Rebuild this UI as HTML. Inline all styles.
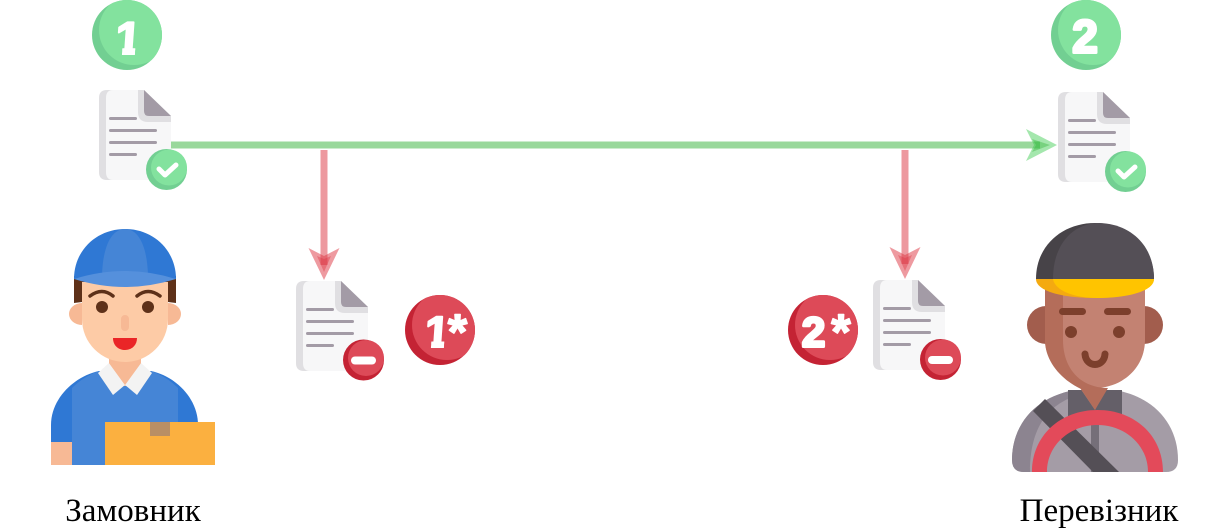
<!DOCTYPE html>
<html lang="uk">
<head>
<meta charset="utf-8">
<title>Замовник — Перевізник</title>
<style>
html,body{margin:0;padding:0;background:#fff;width:1221px;height:531px;overflow:hidden}
svg{display:block}
.num{font-family:"Liberation Sans",sans-serif;font-weight:700;fill:#fff;stroke:#fff;stroke-width:2;stroke-linejoin:round;text-anchor:middle}
.lbl{font-family:"Liberation Serif","DejaVu Serif",serif;font-size:33px;fill:#000;text-anchor:middle}
</style>
</head>
<body>
<svg width="1221" height="531" viewBox="0 0 1221 531" xmlns="http://www.w3.org/2000/svg">
<defs>
  <symbol id="doc" width="72" height="90" viewBox="0 0 72 90" overflow="visible">
    <path d="M8,0H45L72,26V82Q72,90 64,90H8Q0,90 0,82V8Q0,0 8,0Z" fill="#f7f7f8"/>
    <path d="M8,0H14Q7,0 7,8V82Q7,90 14,90H8Q0,90 0,82V8Q0,0 8,0Z" fill="#e0dfe2"/>
    <path d="M39,0H45L72,26V32H49Q39,32 39,22Z" fill="#e0dfe2"/>
    <path d="M45,0L72,26H50Q45,26 45,21Z" fill="#a39ba6"/>
    <rect x="10" y="27" width="28" height="3" rx="1.5" fill="#a39ba6"/>
    <rect x="10" y="39" width="48" height="3" rx="1.5" fill="#a39ba6"/>
    <rect x="10" y="51" width="48" height="3" rx="1.5" fill="#a39ba6"/>
    <rect x="10" y="63" width="28" height="3" rx="1.5" fill="#a39ba6"/>
  </symbol>
  <clipPath id="c-big"><circle cx="0" cy="0" r="35"/></clipPath>
  <clipPath id="one-clip"><path d="M-14,-40H8V40H-5V-10H-14Z"/></clipPath>
</defs>

<!-- connectors -->
<g>
  <line x1="171" y1="145" x2="1040" y2="145" stroke="#35b339" stroke-width="7" opacity=".5"/>
  <path d="M1026,129L1057,145L1026,161L1034,145Z" fill="#35c94a" opacity=".45"/>
  <path d="M1032,139L1050,145L1032,152L1036,145Z" fill="#35b339" opacity=".4"/>
</g>
<g>
  <line x1="324" y1="150" x2="324" y2="265" stroke="#dd3541" stroke-width="7" opacity=".5"/>
  <path d="M308.500,248L324,280L339.500,248L324,256Z" fill="#dd3541" opacity=".5"/>
  <path d="M317,256L324,272L331,256L324,259Z" fill="#dd3541" opacity=".4"/>
</g>
<g>
  <line x1="905" y1="150" x2="905" y2="264" stroke="#dd3541" stroke-width="7" opacity=".5"/>
  <path d="M889.500,247L905,279L920.500,247L905,255Z" fill="#dd3541" opacity=".5"/>
  <path d="M898,255L905,271L912,255L905,258Z" fill="#dd3541" opacity=".4"/>
</g>

<!-- step badges -->
<g transform="translate(127,35)">
  <circle r="35" fill="#72cf92"/>
  <circle cx="7" cy="-5" r="35" fill="#83e29e" clip-path="url(#c-big)"/>
  <g transform="translate(0,19) skewX(-4)" clip-path="url(#one-clip)"><text class="num" x="0" y="0" font-size="46">1</text></g>
</g>
<g transform="translate(1086,35)">
  <circle r="35" fill="#72cf92"/>
  <circle cx="7" cy="-5" r="35" fill="#83e29e" clip-path="url(#c-big)"/>
  <text class="num" x="-1" y="17.500" font-size="46" stroke-width="3" style="stroke-width:3">2</text>
</g>
<g transform="translate(440,330)">
  <circle r="35" fill="#c42334"/>
  <circle cx="7" cy="-5" r="35" fill="#dd4a58" clip-path="url(#c-big)"/>
  <g transform="translate(-4,17) skewX(-4)" clip-path="url(#one-clip)"><text class="num" x="0" y="0" font-size="44">1</text></g>
  <text class="num" x="17.500" y="19" font-size="50" style="stroke-width:1.500">*</text>
</g>
<g transform="translate(823,330)">
  <circle r="35" fill="#c42334"/>
  <circle cx="7" cy="-5" r="35" fill="#dd4a58" clip-path="url(#c-big)"/>
  <text class="num" x="-9.500" y="16.500" font-size="42" style="stroke-width:3">2</text>
  <text class="num" x="18" y="19" font-size="50" style="stroke-width:1.500">*</text>
</g>

<!-- documents -->
<g transform="translate(99,90)">
  <use href="#doc"/>
  <circle cx="67.500" cy="79.500" r="20.500" fill="#72cf92"/>
  <circle cx="70" cy="77.500" r="18" fill="#83e29e"/>
  <path d="M60,79L66,85L77,75" fill="none" stroke="#fff" stroke-width="5" stroke-linecap="round" stroke-linejoin="round"/>
</g>
<g transform="translate(1058,92)">
  <use href="#doc"/>
  <circle cx="67.500" cy="79.500" r="20.500" fill="#72cf92"/>
  <circle cx="70" cy="77.500" r="18" fill="#83e29e"/>
  <path d="M60,79L66,85L77,75" fill="none" stroke="#fff" stroke-width="5" stroke-linecap="round" stroke-linejoin="round"/>
</g>
<g transform="translate(296,281)">
  <use href="#doc"/>
  <circle cx="67.500" cy="79" r="20.500" fill="#c42334"/>
  <circle cx="70" cy="77" r="18" fill="#dd4a58"/>
  <rect x="55" y="75.500" width="25" height="8" rx="4" fill="#fff"/>
</g>
<g transform="translate(873,280)">
  <use href="#doc"/>
  <circle cx="67.500" cy="79.500" r="20.500" fill="#c42334"/>
  <circle cx="70" cy="77.500" r="18" fill="#dd4a58"/>
  <rect x="55" y="76" width="25" height="8" rx="4" fill="#fff"/>
</g>

<!-- customer -->
<g>
  <path d="M51,465V425C51,398 75,376 99,371H151C175,376 198,398 198,425V465Z" fill="#2f78d4"/>
  <path d="M72,465V388C80,380 90,374 99,371H151C160,374 170,380 178,388V465Z" fill="#4585d6"/>
  <rect x="51" y="442" width="21" height="23" fill="#f7b995"/>
  <rect x="109" y="350" width="32" height="36" fill="#f7b995"/>
  <path d="M98,373L109,363L125,385L113,395Z" fill="#f3f3f3"/>
  <path d="M152,373L141,363L125,385L137,395Z" fill="#f3f3f3"/>
  <path d="M109,363L141,363L125,385Z" fill="#f7b995"/>
  <path d="M74,276H176V303L168,302H82L74,303Z" fill="#5e3119"/>
  <path d="M82,303A13,11 0 0 0 82,325Z" fill="#f7b995"/>
  <path d="M168,303A13,11 0 0 1 168,325Z" fill="#f7b995"/>
  <path d="M82,282H168V319A43,43 0 0 1 82,319Z" fill="#fdcba6"/>
  <circle cx="102" cy="307" r="6" fill="#5e3119"/>
  <circle cx="148" cy="307" r="6" fill="#5e3119"/>
  <path d="M90,296Q102,287 113,296" fill="none" stroke="#5e3119" stroke-width="3.500" stroke-linecap="round"/>
  <path d="M137,296Q148,287 160,296" fill="none" stroke="#5e3119" stroke-width="3.500" stroke-linecap="round"/>
  <rect x="121" y="315" width="8" height="16" rx="4" fill="#f7b995"/>
  <path d="M113,338H137C137,346 131,350 125,350C119,350 113,346 113,338Z" fill="#ea2527"/>
  <path d="M74,279C74,250 97,229 125,229C153,229 176,250 176,279Z" fill="#2f78d4"/>
  <path d="M102,279C102,250 110,229 125,229C140,229 148,250 148,279Z" fill="#4585d6"/>
  <path d="M74,279Q125,263 176,279Q150,287 125,287Q100,287 74,279Z" fill="#5590dc"/>
  <rect x="105" y="422" width="110" height="43" fill="#fbb040"/>
  <rect x="150" y="422" width="20" height="14" fill="#b98f65"/>
</g>

<!-- driver -->
<g>
  <path d="M1012,460C1012,425 1035,397 1075,390H1115C1155,397 1178,425 1178,460Q1178,472 1166,472H1024Q1012,472 1012,460Z" fill="#a49ca6"/>
  <path d="M1012,460C1012,425 1035,397 1075,390V396C1050,405 1030,425 1030,472H1024Q1012,472 1012,460Z" fill="#8c8490"/>
  <rect x="1068" y="390" width="54" height="30" fill="#645f68"/>
  <rect x="1091" y="420" width="8" height="52" fill="#756f79"/>
  <path d="M1033,411L1045,399L1119,472H1093Z" fill="#544f56"/>
  <path d="M1046,306A19,19 0 0 0 1046,344Z" fill="#a25d4d"/>
  <path d="M1144,306A19,19 0 0 1 1144,344Z" fill="#a25d4d"/>
  <path d="M1045,285H1145V340C1145,368 1122,388 1095,388L1106,388L1095,410L1080,388C1062,378 1045,360 1045,340Z" fill="#c38272"/>
  <path d="M1045,285H1063V340C1063,368 1080,388 1108,388L1095,410L1081,389C1062,380 1045,362 1045,340Z" fill="#b46d5a"/>
  <rect x="1059" y="308" width="27" height="7" rx="3.500" fill="#7c3f2c"/>
  <rect x="1104" y="308" width="27" height="7" rx="3.500" fill="#7c3f2c"/>
  <circle cx="1071" cy="332" r="6" fill="#7c3f2c"/>
  <circle cx="1119" cy="332" r="6" fill="#7c3f2c"/>
  <path d="M1085,354C1086,368 1104,368 1105,354" fill="none" stroke="#7c3f2c" stroke-width="7" stroke-linecap="round"/>
  <path d="M1036,279C1036,245 1063,223 1095,223C1127,223 1154,245 1154,279Z" fill="#474348"/>
  <path d="M1053,279C1053,245 1072,223 1100,223C1130,224 1154,245 1154,279Z" fill="#544f56"/>
  <path d="M1036,279H1154C1154,291 1128,298 1095,298C1062,298 1036,291 1036,279Z" fill="#f4aa10"/>
  <path d="M1053,279H1154C1154,291 1128,298 1097,298C1075,298 1055,291 1053,279Z" fill="#ffc400"/>
  <path d="M1032,472C1032,436 1060,410 1097.500,410C1135,410 1163,436 1163,472H1148C1148,445 1125,425 1097.500,425C1070,425 1047,445 1047,472Z" fill="#e34a5a"/>
</g>

<text class="lbl" x="133" y="521">Замовник</text>
<text class="lbl" x="1099" y="521">Перевізник</text>
</svg>
</body>
</html>
